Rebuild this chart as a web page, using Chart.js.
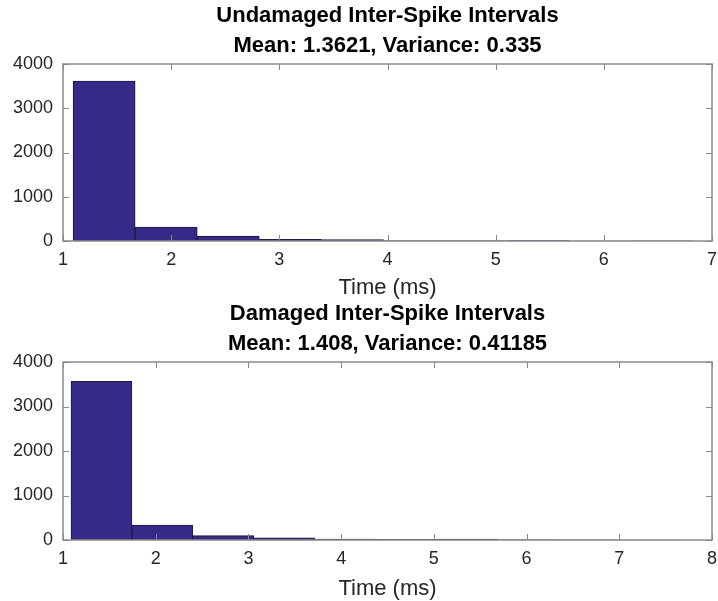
<!DOCTYPE html>
<html>
<head>
<meta charset="utf-8">
<script src="https://cdn.jsdelivr.net/npm/chart.js@4/dist/chart.umd.min.js"></script>
<style>
  html, body { margin: 0; padding: 0; background: #fff; }
  body { width: 718px; height: 601px; position: relative; overflow: hidden; }
  canvas { position: absolute; left: 0; }
</style>
</head>
<body>
<canvas id="undamaged" width="718" height="300" style="top:0"></canvas>
<canvas id="damaged" width="718" height="303" style="top:298px"></canvas>
<script>
// undamaged ISI histogram, 10 bins (bin centres in ms)
const undamagedCenters = [1.380, 1.954, 2.528, 3.102, 3.676, 4.250, 4.824, 5.398, 5.972, 6.546];
const undamagedCounts = [3615, 317, 113, 36, 30, 6, 3, 12, 1, 2];
const undamagedTitle = ['Undamaged Inter-Spike Intervals', 'Mean: 1.3621, Variance: 0.335'];

// damaged ISI histogram, 10 bins
const damagedCenters = [1.4145, 2.0715, 2.7285, 3.3855, 4.0425, 4.6995, 5.3565, 6.0135, 6.6705, 7.3275];
const damagedCounts = [3565, 335, 100, 50, 22, 14, 18, 4, 2, 1];
const damagedTitle = ['Damaged Inter-Spike Intervals', 'Mean: 1.408, Variance: 0.41185'];

const yTicks = [0, 1000, 2000, 3000, 4000];
const xLabel = 'Time (ms)';

const FONT = "'Liberation Sans', Arial, Helvetica, sans-serif";
const frameColor = '#8a8a8a';
const textColor = '#262626';

// matlab-ish box with inward ticks on all four sides
const boxPlugin = {
  id: 'box',
  afterDatasetsDraw(chart) {
    const {ctx, chartArea: a, scales} = chart;
    const len = 6;
    ctx.save();
    ctx.strokeStyle = frameColor;
    ctx.lineWidth = 1;
    ctx.beginPath();
    scales.x.ticks.forEach(t => {
      const px = Math.round(scales.x.getPixelForValue(t.value)) + 0.5;
      ctx.moveTo(px, a.bottom); ctx.lineTo(px, a.bottom - len);
      ctx.moveTo(px, a.top); ctx.lineTo(px, a.top + len);
    });
    scales.y.ticks.forEach(t => {
      const py = Math.round(scales.y.getPixelForValue(t.value)) + 0.5;
      ctx.moveTo(a.left, py); ctx.lineTo(a.left + len, py);
      ctx.moveTo(a.right, py); ctx.lineTo(a.right - len, py);
    });
    ctx.stroke();
    ctx.lineWidth = 1.5;
    ctx.strokeRect(a.left, a.top, a.right - a.left, a.bottom - a.top);
    ctx.restore();
  }
};

function buildHist(id, centers, counts, title, xMax, xAxisH) {
  const ctx = document.getElementById(id).getContext('2d');
  new Chart(ctx, {
    type: 'bar',
    data: {
      datasets: [{
        data: centers.map((c, i) => ({x: c, y: counts[i]})),
        backgroundColor: '#352a87',
        borderColor: '#1b1b3a',
        borderWidth: 1,
        barPercentage: 1,
        categoryPercentage: 1,
      }],
    },
    options: {
      responsive: false,
      animation: false,
      layout: {padding: {left: 0, right: 6, top: 0, bottom: 0}},
      plugins: {
        legend: {display: false},
        tooltip: {enabled: false},
        title: {
          display: true,
          fullSize: false, // centre over the axes, like matlab
          text: title,
          color: '#000',
          font: {family: FONT, size: 22, weight: 'bold', lineHeight: '30px'},
          padding: {top: 1, bottom: 3},
        },
      },
      scales: {
        x: {
          type: 'linear',
          min: 1,
          max: xMax,
          offset: false,
          grid: {display: false, drawTicks: false},
          border: {display: false},
          ticks: {stepSize: 1, color: textColor, padding: 8, maxRotation: 0,
                  font: {family: FONT, size: 18}},
          title: {display: true, text: xLabel, color: textColor,
                  font: {family: FONT, size: 22, lineHeight: 1.2},
                  padding: {top: 0, bottom: -1}},
          afterFit(s) { s.height = xAxisH; s.paddingLeft = 0; s.paddingRight = 0; },
        },
        y: {
          min: 0,
          max: 4000,
          grid: {display: false, drawTicks: false},
          border: {display: false},
          afterBuildTicks(s) { s.ticks = yTicks.map(v => ({value: v})); },
          ticks: {color: textColor, padding: 10, font: {family: FONT, size: 18},
                  callback: v => String(v)},
          afterFit(s) { s.width = 63; },
        },
      },
    },
    plugins: [boxPlugin],
  });
}

buildHist('undamaged', undamagedCenters, undamagedCounts, undamagedTitle, 7, 59);
buildHist('damaged', damagedCenters, damagedCounts, damagedTitle, 8, 61);
</script>
</body>
</html>
